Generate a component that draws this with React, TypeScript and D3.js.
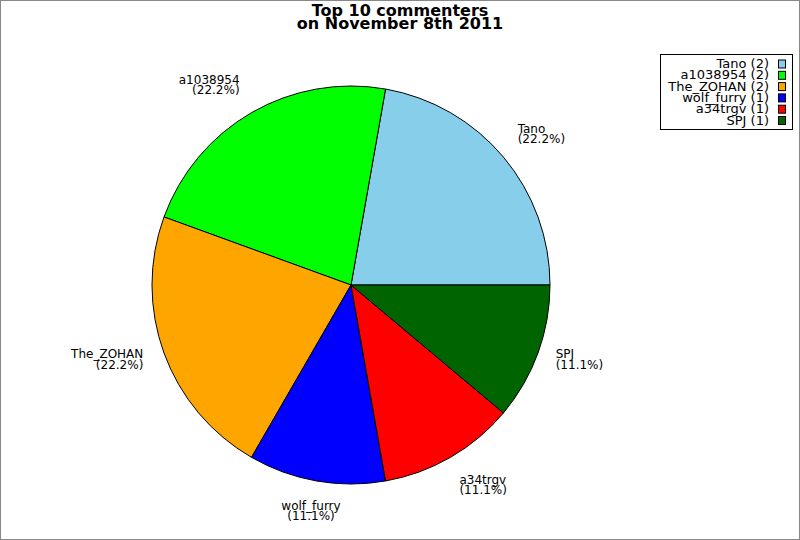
import { useMemo } from 'react';
import * as d3 from 'd3';

// Data
const names = ['Tano', 'a1038954', 'The_ZOHAN', 'wolf_furry', 'a34trgv', 'SPJ'];
const counts = [2, 2, 2, 1, 1, 1];
const colors = ['#87ceeb', '#00ff00', '#ffa500', '#0000ff', '#ff0000', '#006400'];
const titleLines = ['Top 10 commenters', 'on November 8th 2011'];

const W = 800;
const H = 540;
const FONT = '"DejaVu Sans", sans-serif';

export default function App() {
  const cx = 351;
  const cy = 285;
  const r = 199;

  const total = d3.sum(counts);

  // Slices start at 3 o'clock and go counter-clockwise
  const arcs = useMemo(() => {
    const pie = d3
      .pie<number>()
      .sort(null)
      .value((d) => d)
      .startAngle(Math.PI / 2)
      .endAngle(Math.PI / 2 - 2 * Math.PI);
    return pie(counts);
  }, []);

  const arcGen = d3.arc<d3.PieArcDatum<number>>().innerRadius(0).outerRadius(r);

  const legendX = 660;
  const legendY = 54;
  const legendW = 132;
  const legendH = 75;
  const rowH = 11.3;

  return (
    <div style={{ position: 'fixed', left: 0, top: 0 }}>
      <svg width={W} height={H} style={{ display: 'block', fontFamily: FONT }}>
        <rect x={0} y={0} width={W} height={H} fill="#fff" />
        <rect x={0.5} y={0.5} width={W - 1} height={H - 1} fill="none" stroke="#888" strokeWidth={1} />

        {titleLines.map((t, i) => (
          <text
            key={t}
            x={W / 2}
            y={16 + i * 13}
            textAnchor="middle"
            fontSize={16}
            fontWeight="bold"
            fill="#000"
          >
            {t}
          </text>
        ))}

        <g transform={`translate(${cx},${cy})`}>
          {arcs.map((a, i) => (
            <path key={names[i]} d={arcGen(a) || ''} fill={colors[i]} stroke="#000" strokeWidth={1} />
          ))}
          {arcs.map((a, i) => {
            // d3 angle: 0 at 12 o'clock, clockwise
            const mid = (a.startAngle + a.endAngle) / 2;
            const sx = Math.sin(mid);
            const sy = -Math.cos(mid);
            const lx = sx * r * 1.1 + (sx > 0.25 ? -1 : -2);
            const ly = sy * r * 1.1;
            const anchor = sx > 0.25 ? 'start' : sx < -0.25 ? 'end' : 'middle';
            const lineH = 10.5;
            // vertical alignment: bottom above, top below, centred at sides
            let y0: number;
            if (sy < -0.5) y0 = ly - lineH - 1;
            else if (sy > 0.5) y0 = ly + 9;
            else y0 = ly - 1.5;
            const pct = ((counts[i] / total) * 100).toFixed(1);
            return (
              <text key={'l' + names[i]} fontSize={12} fill="#000" textAnchor={anchor}>
                <tspan x={lx} y={y0}>
                  {names[i]}
                </tspan>
                <tspan x={lx} y={y0 + lineH}>
                  {`(${pct}%)`}
                </tspan>
              </text>
            );
          })}
        </g>

        <rect
          x={legendX + 0.5}
          y={legendY + 0.5}
          width={legendW}
          height={legendH}
          fill="#fff"
          stroke="#000"
          strokeWidth={1}
        />
        {names.map((n, i) => {
          const yc = legendY + 9.5 + i * rowH;
          return (
            <g key={'lg' + n}>
              <text x={769} y={yc + 4.5} textAnchor="end" fontSize={13} fill="#000">
                {`${n} (${counts[i]})`}
              </text>
              <rect x={778.5} y={yc - 3.5} width={7} height={8} fill={colors[i]} stroke="#000" strokeWidth={1} />
            </g>
          );
        })}
      </svg>
    </div>
  );
}
